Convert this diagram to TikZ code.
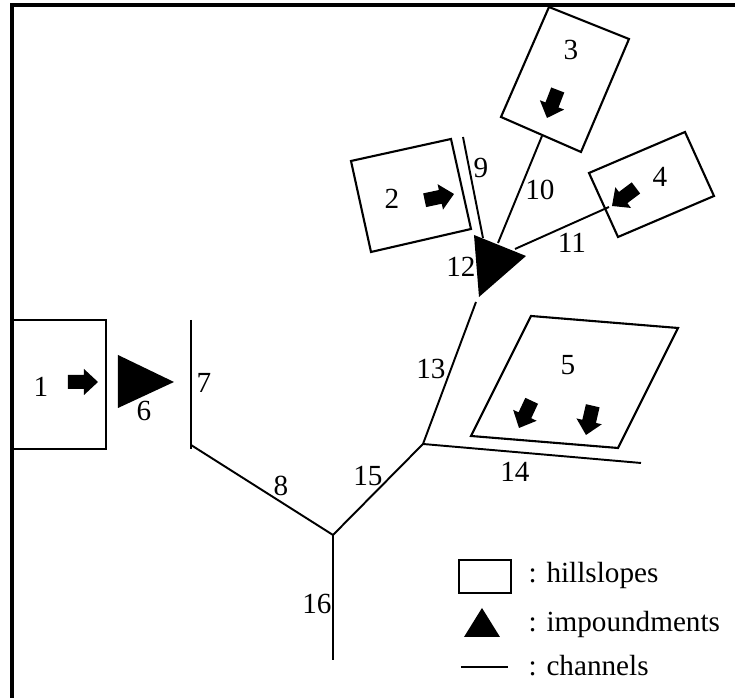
\documentclass[tikz,border=0pt]{standalone}
\usepackage{fontspec}
\setmainfont{Liberation Serif}
\usepackage{tikz}
\newcommand{\flowarrow}[3]{\fill[shift={(#1,#2)},rotate=#3] (0,0)--(-14,-13)--(-14,-7)--(-30,-7)--(-30,7)--(-14,7)--(-14,13)--cycle;}
\tikzset{
    hillslope/.style={draw,line width=0.6pt,line join=miter},
    channel/.style={line width=0.55pt},
    impoundment/.style={fill=black},
    lab/.style={inner sep=0pt,font=\fontsize{8.3}{10}\selectfont},
}
\begin{document}
\begin{tikzpicture}[x=0.01cm,y=-0.01cm]
    \useasboundingbox (0,0) rectangle (735,698);
    \draw [line width=1.15pt](12,698)--(12,5)--(735,5);
    % hillslopes
    \draw [hillslope](12,320)--(106,320)--(106,449)--(12,449);
    \draw [hillslope](351,161)--(451,139)--(471,229)--(371,252)--cycle;
    \draw [hillslope](549,7)--(629,39)--(581,152)--(501,117)--cycle;
    \draw [hillslope](589,173)--(685,132)--(714,196)--(618,237)--cycle;
    \draw [hillslope](531,316)--(678,328)--(618,448)--(471,436)--cycle;
    % impoundments
    \fill [impoundment](118,355)--(174,382)--(118,408)--cycle;
    \fill [impoundment](474,235)--(526,256)--(479,297)--cycle;
    % channels
    \coordinate (top7) at (191,320);
    \coordinate (end7) at (191,449);
    \coordinate (top8) at (191,445);
    \coordinate (joinA) at (333,535);
    \coordinate (joinB) at (423,444);
    \coordinate (end16) at (333,660);
    \coordinate (top13) at (476,302);
    \coordinate (end14) at (641,463);
    \coordinate (top9) at (463,137);
    \coordinate (end9) at (483,238);
    \coordinate (top10) at (542,136);
    \coordinate (end10) at (498,243);
    \coordinate (top11) at (609,207);
    \coordinate (end11) at (515,249);
    \draw [channel](top7)--(end7);
    \draw [channel](top8)--(joinA);
    \draw [channel](joinA)--(joinB);
    \draw [channel](joinA)--(end16);
    \draw [channel](joinB)--(top13);
    \draw [channel](joinB)--(end14);
    \draw [channel](top9)--(end9);
    \draw [channel](top10)--(end10);
    \draw [channel](top11)--(end11);
    % flow directions
    \flowarrow{98}{382}{0}
    \flowarrow{454}{194}{12}
    \flowarrow{547}{118}{-111}
    \flowarrow{612}{206}{-143}
    \flowarrow{519}{428}{-115}
    \flowarrow{586}{435}{-103}
    % numbers
    \node [lab] (n1) at (41,387) {1};
    \node [lab] (n2) at (392,199) {2};
    \node [lab] (n3) at (571,50) {3};
    \node [lab] (n4) at (660,177) {4};
    \node [lab] (n5) at (568,365) {5};
    \node [lab] (n6) at (144,411) {6};
    \node [lab] (n7) at (204,383) {7};
    \node [lab] (n8) at (281,486) {8};
    \node [lab] (n9) at (481,168) {9};
    \node [lab] (n10) at (540,190) {10};
    \node [lab] (n11) at (572,243) {11};
    \node [lab] (n12) at (461,267) {12};
    \node [lab] (n13) at (431,369) {13};
    \node [lab] (n14) at (515,472) {14};
    \node [lab] (n15) at (368,476) {15};
    \node [lab] (n16) at (317,604) {16};
    % legend
    \draw [hillslope](459,560) rectangle (511,593);
    \fill [impoundment](464,637)--(482,608)--(500,637)--cycle;
    \coordinate (keyL) at (461,667);
    \coordinate (keyR) at (508,667);
    \draw [channel](keyL)--(keyR);
    \node [lab,anchor=base west] (keyA) at (528,583) {: hillslopes};
    \node [lab,anchor=base west] (keyB) at (528,632) {: impoundments};
    \node [lab,anchor=base west] (keyC) at (528,676) {: channels};
\end{tikzpicture}
\end{document}
